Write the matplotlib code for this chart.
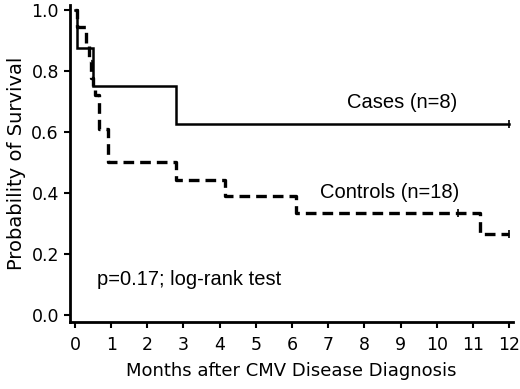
import matplotlib
matplotlib.use("Agg")
import matplotlib.pyplot as plt

# Kaplan-Meier data
cases_t = [0, 0.05, 0.5, 2.8, 12]
cases_s = [1.0, 0.875, 0.75, 0.625, 0.625]
cases_cens_t = [12]
cases_cens_s = [0.625]

ctrl_t = [0, 0.05, 0.3, 0.4, 0.45, 0.5, 0.55, 0.65, 0.9, 2.8, 4.15, 6.1, 11.2, 12]
ctrl_s = [1.0, 0.944, 0.889, 0.833, 0.778, 0.75, 0.722, 0.611, 0.5, 0.444, 0.389, 0.333, 0.267, 0.267]
ctrl_cens_t = [10.6, 12]
ctrl_cens_s = [0.333, 0.267]

xticks = list(range(0, 13))
yticks = [0.0, 0.2, 0.4, 0.6, 0.8, 1.0]

fig = plt.figure(figsize=(5.2, 3.89), dpi=100)
ax = fig.add_axes([70/520, (389-322)/389, (513-70)/520, (322-5)/389])

ax.step(cases_t, cases_s, where='post', color='black', lw=1.8, solid_joinstyle='miter')
ax.step(ctrl_t, ctrl_s, where='post', color='black', lw=2.4, dashes=(3.2, 1.8))
ax.plot(cases_cens_t, cases_cens_s, ls='none', marker='|', ms=6, mew=1.2, color='black')
ax.plot(ctrl_cens_t, ctrl_cens_s, ls='none', marker='|', ms=6, mew=1.2, color='black')

ax.set_xlim(-0.138, 12.11)
ax.set_ylim(-0.023, 1.016)
ax.set_xticks(xticks)
ax.set_xticklabels([str(t) for t in xticks])
ax.set_yticks(yticks)
ax.set_yticklabels([f"{v:.1f}" for v in yticks])
for s in ['top', 'right']:
    ax.spines[s].set_visible(False)
for s in ['left', 'bottom']:
    ax.spines[s].set_linewidth(2.0)
ax.tick_params(axis='both', direction='out', length=4, width=1.5, labelsize=12.5, pad=4)
ax.tick_params(axis='x', pad=6)

ax.set_xlabel("Months after CMV Disease Diagnosis", fontsize=13, labelpad=6)
ax.set_ylabel("Probability of Survival", fontsize=14, labelpad=4)

ax.text(9.05, 0.695, "Cases (n=8)", fontsize=14.5, family='Liberation Sans', ha='center', va='center')
ax.text(8.7, 0.40, "Controls (n=18)", fontsize=14.5, family='Liberation Sans', ha='center', va='center')
ax.text(0.61, 0.115, "p=0.17; log-rank test", fontsize=14.5, family='Liberation Sans', ha='left', va='center')

fig.savefig("out.png", dpi=100)
